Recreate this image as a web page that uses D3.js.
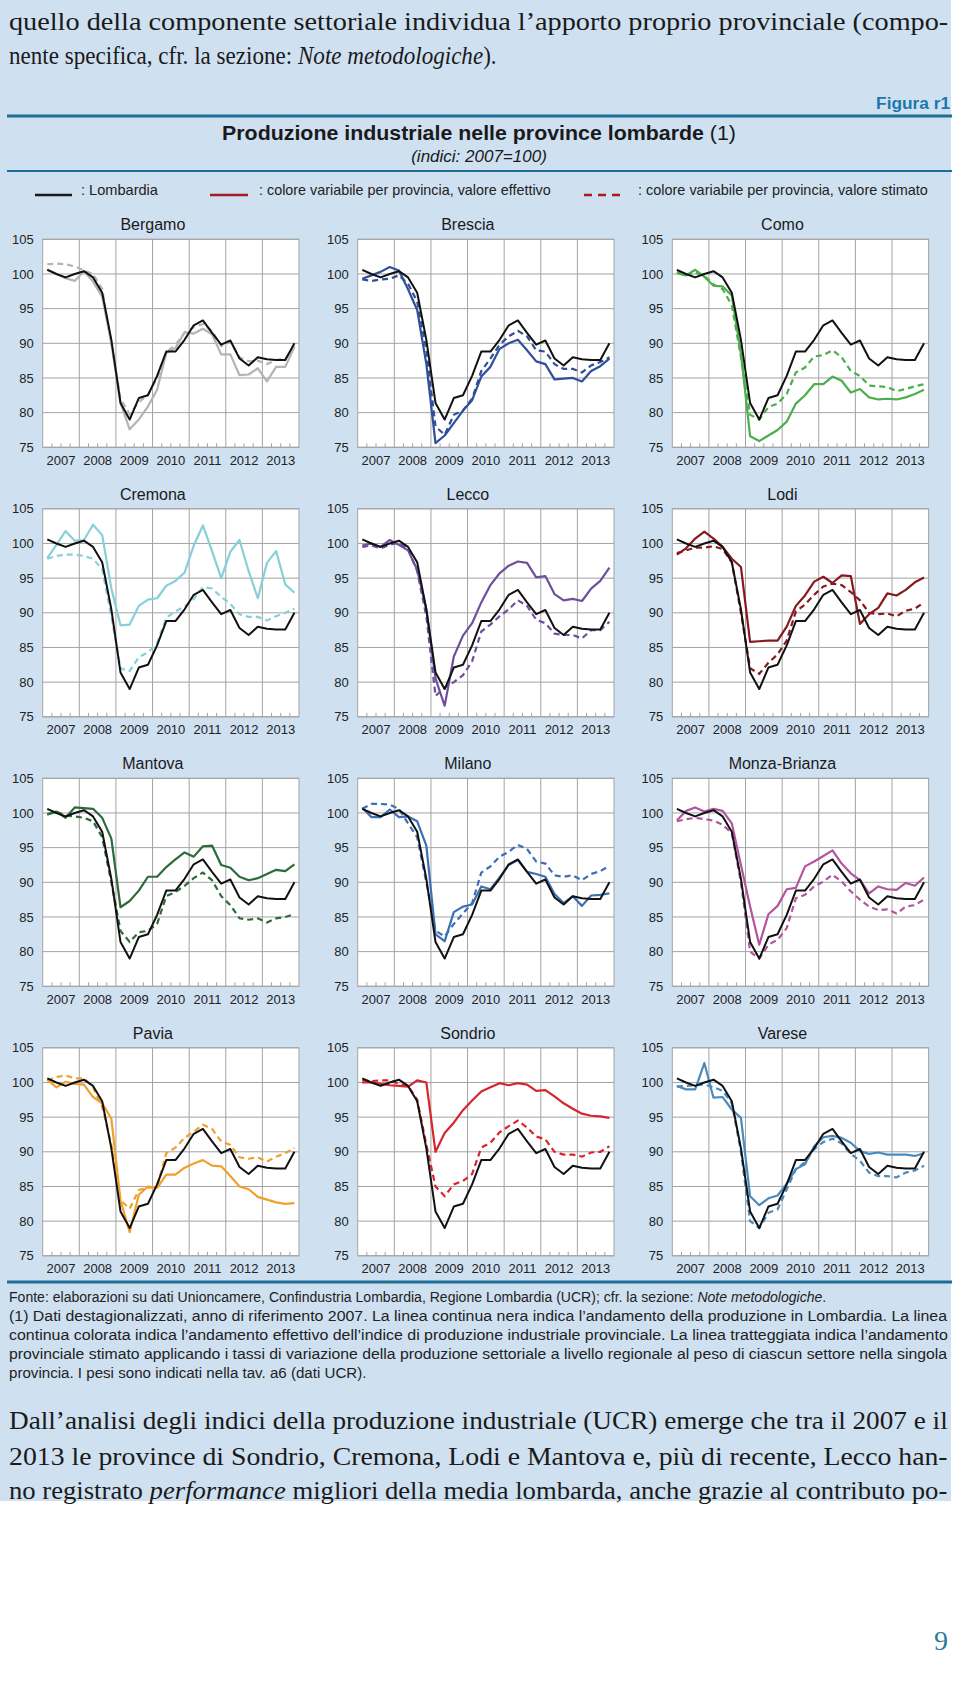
<!DOCTYPE html>
<html><head><meta charset="utf-8">
<script src="https://cdn.jsdelivr.net/npm/d3@7"></script>
<style>
html,body{margin:0;padding:0;background:#fff;}
svg{display:block;}
</style></head>
<body>
<svg id="chart" width="960" height="1681"></svg>
<script>
// ---------------- DATA ----------------
const years = ["2007","2008","2009","2010","2011","2012","2013"];
const quarters = ["2007T1","2007T2","2007T3","2007T4","2008T1","2008T2","2008T3","2008T4",
  "2009T1","2009T2","2009T3","2009T4","2010T1","2010T2","2010T3","2010T4",
  "2011T1","2011T2","2011T3","2011T4","2012T1","2012T2","2012T3","2012T4",
  "2013T1","2013T2","2013T3","2013T4"];
const yTicks = [75, 80, 85, 90, 95, 100, 105];
const provinces = ["Bergamo","Brescia","Como","Cremona","Lecco","Lodi","Mantova","Milano","Monza-Brianza","Pavia","Sondrio","Varese"];

const lombardia = [100.6,100.0,99.5,100.0,100.4,99.5,97.3,90.5,81.4,79.0,82.1,82.5,85.3,88.8,88.8,90.5,92.6,93.3,91.5,89.8,90.4,87.8,86.8,88.0,87.7,87.6,87.6,90.0];

const bergamoEff  = [100.7,100.0,99.4,99.0,100.4,98.9,96.7,90.0,81.4,77.6,79.0,80.9,83.3,88.6,89.3,91.6,91.4,92.1,91.3,88.4,88.4,85.4,85.5,86.4,84.5,86.6,86.6,89.5];
const bergamoStim = [101.4,101.5,101.4,101.1,100.5,100.0,97.8,90.0,82.0,79.8,81.5,82.6,85.0,88.7,89.8,91.5,92.3,92.8,91.8,89.6,90.2,88.0,87.4,87.5,87.0,87.6,87.8,89.6];
const bresciaEff  = [99.3,99.8,100.3,101.0,100.5,97.8,94.8,87.0,75.6,76.7,78.5,80.3,81.8,85.2,86.6,89.2,90.0,90.5,89.0,87.4,87.0,84.8,84.9,85.0,84.5,86.0,86.7,87.8];
const bresciaStim = [99.2,99.0,99.2,99.3,99.8,98.6,96.0,89.0,78.0,76.8,79.7,80.3,82.0,86.0,87.8,89.8,91.0,91.8,91.0,89.0,88.8,87.0,86.3,86.3,85.8,86.8,87.3,88.0];
const comoEff     = [100.1,99.8,100.6,99.6,98.3,98.2,96.9,88.5,76.6,75.9,76.7,77.5,78.7,81.3,82.5,84.1,84.1,85.2,84.6,82.9,83.4,82.2,81.9,82.0,81.9,82.2,82.7,83.3];
const comoStim    = [100.3,99.8,100.2,99.7,98.5,97.8,95.5,88.0,79.7,79.0,80.8,81.3,82.7,85.8,86.5,88.1,88.3,89.0,88.0,86.0,85.3,83.9,83.8,83.7,83.1,83.4,83.8,84.1];
const cremonaEff  = [97.9,99.8,101.8,100.4,100.5,102.7,101.2,93.5,88.2,88.3,91.0,91.9,92.1,93.9,94.6,95.8,99.7,102.6,98.9,95.0,98.8,100.5,96.0,92.1,97.2,98.9,94.1,92.9];
const cremonaStim = [97.8,98.2,98.4,98.4,98.2,97.8,96.3,89.5,82.0,81.6,83.6,84.3,85.6,89.3,90.2,90.9,92.0,93.7,93.5,92.3,91.3,89.8,89.4,89.4,88.9,89.5,90.0,90.6];
const leccoEff    = [99.7,100.0,99.5,100.5,99.8,99.0,96.2,90.5,80.5,76.6,83.7,86.7,88.5,91.5,94.0,95.7,96.8,97.4,97.2,95.1,95.3,92.7,91.8,92.0,91.7,93.5,94.6,96.5];
const leccoStim   = [99.5,99.7,99.3,99.8,100.1,99.2,96.0,89.5,78.0,79.2,80.0,81.0,83.0,87.3,88.3,89.5,90.5,91.8,91.0,89.0,88.5,87.0,86.8,86.8,86.3,87.5,87.5,88.7];
const lodiEff     = [98.4,99.3,100.7,101.7,100.7,99.5,97.8,96.6,85.8,85.9,86.0,86.0,88.0,91.0,92.5,94.5,95.2,94.3,95.4,95.3,88.4,89.8,90.7,92.8,92.5,93.3,94.4,95.1];
const lodiStim    = [98.6,99.0,99.4,99.4,99.6,99.2,97.3,90.0,82.0,81.2,82.8,84.0,86.0,90.2,91.2,92.6,93.8,94.2,94.0,93.0,91.8,90.0,89.8,89.9,89.5,90.3,90.6,91.5];
const mantovaEff  = [99.8,100.2,99.3,100.8,100.7,100.6,99.3,96.3,86.4,87.3,88.8,90.8,90.8,92.2,93.3,94.3,93.7,95.2,95.3,92.5,92.1,90.8,90.3,90.6,91.2,91.8,91.6,92.6];
const mantovaStim = [99.8,100.2,99.6,99.5,99.3,98.8,96.5,90.0,83.0,81.4,82.8,83.0,84.0,88.0,88.6,89.5,90.6,91.4,90.3,88.0,86.7,84.8,84.6,84.8,84.2,84.8,85.0,85.4];
const milanoEff   = [100.8,99.4,99.4,100.5,99.4,99.5,98.8,95.3,82.5,81.5,85.7,86.5,86.8,89.4,89.0,90.7,92.5,93.2,91.5,91.2,90.8,88.3,87.0,88.0,86.6,88.1,88.2,88.4];
const milanoStim  = [100.6,101.3,101.3,101.2,100.6,98.5,96.5,90.0,83.0,82.2,84.0,85.5,87.0,91.4,92.3,93.7,94.4,95.4,94.8,93.0,92.7,91.0,90.8,91.0,90.3,91.2,91.6,92.4];
const monzaEff    = [98.9,100.3,100.8,100.2,100.6,100.3,98.5,92.5,86.5,81.0,85.4,86.6,89.0,89.2,92.3,93.0,93.8,94.6,92.7,91.3,90.3,88.4,89.4,89.0,88.9,89.9,89.5,90.7];
const monzaStim   = [98.8,99.1,99.3,99.1,98.9,98.3,97.1,90.0,80.0,79.0,81.0,81.7,83.4,87.7,88.2,89.4,90.1,91.1,90.1,88.7,87.5,86.5,86.0,86.1,85.5,86.5,86.7,87.5];
const paviaEff    = [100.4,99.3,100.1,99.8,99.7,97.9,97.0,94.8,83.0,78.4,83.8,85.0,84.8,86.7,86.7,87.7,88.3,88.8,88.0,87.9,86.5,85.0,84.6,83.5,83.1,82.7,82.5,82.6];
const paviaStim   = [100.3,100.8,101.0,100.6,100.6,99.3,96.5,91.0,83.0,81.8,84.5,84.8,85.0,89.8,90.6,92.0,92.9,93.9,93.3,91.5,91.0,89.2,89.0,89.2,88.6,89.3,89.8,90.6];
const sondrioEff  = [100.0,100.0,99.8,99.6,99.5,99.4,100.3,100.0,90.0,92.7,94.2,96.0,97.4,98.7,99.3,99.9,99.6,99.9,99.7,98.8,98.9,98.0,97.0,96.2,95.5,95.2,95.1,94.9];
const sondrioStim = [100.3,100.2,100.3,100.3,99.8,99.5,97.5,91.0,85.0,83.6,85.3,85.8,86.8,90.6,91.3,92.8,93.7,94.5,93.5,92.2,91.8,90.0,89.6,89.6,89.3,89.9,90.0,90.8];
const vareseEff   = [99.5,99.0,99.0,102.8,97.8,97.9,96.1,94.9,83.6,82.3,83.3,83.7,85.4,87.5,88.2,90.8,92.1,92.3,92.0,91.3,90.1,89.7,89.9,89.6,89.6,89.6,89.4,89.8];
const vareseStim  = [99.4,99.5,99.6,99.7,99.3,98.8,97.0,90.0,80.0,79.0,81.2,81.7,84.6,87.5,88.5,90.4,91.4,91.9,91.2,89.7,88.7,87.0,86.5,86.5,86.3,87.0,87.3,88.0];

const effettivo = [bergamoEff,bresciaEff,comoEff,cremonaEff,leccoEff,lodiEff,mantovaEff,milanoEff,monzaEff,paviaEff,sondrioEff,vareseEff];
const stimato   = [bergamoStim,bresciaStim,comoStim,cremonaStim,leccoStim,lodiStim,mantovaStim,milanoStim,monzaStim,paviaStim,sondrioStim,vareseStim];

// ---------------- STYLE ----------------
const provinceColors = ["#b4b4b4","#2f4f9a","#4cae4c","#86d0d8","#6d4f9e","#861a1f","#2c6a3b","#3c6fb3","#b2559e","#f0a02c","#d8242d","#4a8bbf"];
const BG = "#cfe0f1", TEAL = "#1f6e98", GRID = "#a3a3a3";
const SANS = "'Liberation Sans', Arial, sans-serif";
const NARROW = "'Liberation Sans Narrow', 'Liberation Sans', Arial, sans-serif";
const SERIF = "'Liberation Serif', 'Times New Roman', serif";

const svg = d3.select("#chart");
svg.append("rect").attr("x",0).attr("y",0).attr("width",951).attr("height",1501).attr("fill",BG);

// text line; if o.len is given the whole line is horizontally scaled to that width
function textLine(x, y, parts, o) {
  const g = svg.append("g").attr("transform", `translate(${x},${y})`);
  const t = g.append("text").attr("x", 0).attr("y", 0)
    .attr("font-family", o.font).attr("font-size", o.size).attr("fill", o.fill || "#1a1a1a");
  if (o.anchor) t.attr("text-anchor", o.anchor);
  if (o.weight) t.attr("font-weight", o.weight);
  if (o.italic) t.attr("font-style", "italic");
  parts.forEach(p => {
    const s = t.append("tspan").text(p.t !== undefined ? p.t : p);
    if (p.i) s.attr("font-style", "italic");
    if (p.w) s.attr("font-weight", p.w);
  });
  if (o.len) {
    const w = t.node().getComputedTextLength();
    if (w > 0) g.attr("transform", `translate(${x},${y}) scale(${o.len / w},1)`);
  }
  return t;
}

// top body text
textLine(9, 30, ["quello della componente settoriale individua l’apporto proprio provinciale (compo-"], {font: SERIF, size: 25, len: 940});
textLine(9, 64, ["nente specifica, cfr. la sezione: ", {t: "Note metodologiche", i: true}, ")."], {font: SERIF, size: 25, len: 488});

// figure header
textLine(950, 109, ["Figura r1"], {font: SANS, size: 17, weight: "bold", fill: "#1b78ad", anchor: "end", len: 74});
svg.append("line").attr("x1",7).attr("x2",952).attr("y1",116).attr("y2",116).attr("stroke",TEAL).attr("stroke-width",3);
textLine(479, 140, [{t: "Produzione industriale nelle province lombarde", w: "bold"}, {t: " (1)", w: "normal"}], {font: SANS, size: 20, anchor: "middle", fill: "#1a1a1a", len: 514});
textLine(479, 162, ["(indici: 2007=100)"], {font: SANS, size: 17, italic: true, anchor: "middle", fill: "#1a1a1a"});
svg.append("line").attr("x1",7).attr("x2",952).attr("y1",171).attr("y2",171).attr("stroke",TEAL).attr("stroke-width",2);

// legend
const legY = 195;
svg.append("line").attr("x1",35).attr("x2",72).attr("y1",legY).attr("y2",legY).attr("stroke","#1a1a1a").attr("stroke-width",2.5);
textLine(81, legY, [": Lombardia"], {font: NARROW, size: 14, fill: "#222", len: 77});
svg.append("line").attr("x1",210).attr("x2",248).attr("y1",legY).attr("y2",legY).attr("stroke","#a31b20").attr("stroke-width",2.5);
textLine(259, legY, [": colore variabile per provincia, valore effettivo"], {font: NARROW, size: 14, fill: "#222", len: 292});
svg.append("line").attr("x1",584).attr("x2",624).attr("y1",legY).attr("y2",legY).attr("stroke","#a31b20").attr("stroke-width",2.5).attr("stroke-dasharray","8,6");
textLine(638, legY, [": colore variabile per provincia, valore stimato"], {font: NARROW, size: 14, fill: "#222", len: 290});

// ---------------- PANELS ----------------
const PW = 256.3, PH = 208;
const colLeft = [42.7, 357.7, 672.3];
const rowTop = [239.3, 508.8, 778.3, 1047.8];

const x = d3.scaleBand().domain(quarters).range([0, PW]);
const xYear = d3.scaleBand().domain(years).range([0, PW]);
const y = d3.scaleLinear().domain([75, 105]).range([PH, 0]);
const line = d3.line()
  .x((d, i) => x(quarters[i]) + x.bandwidth() / 2)
  .y(d => y(d));

provinces.forEach((name, k) => {
  const col = k % 3, row = Math.floor(k / 3);
  const g = svg.append("g").attr("transform", `translate(${colLeft[col]},${rowTop[row]})`);
  g.append("rect").attr("width", PW).attr("height", PH).attr("fill", "#fff");

  g.selectAll("line.hg").data(yTicks).join("line").attr("class","hg")
    .attr("x1", 0).attr("x2", PW).attr("y1", d => y(d)).attr("y2", d => y(d))
    .attr("stroke", GRID).attr("stroke-width", 1);
  g.selectAll("line.vg").data(years.slice(1)).join("line").attr("class","vg")
    .attr("x1", d => xYear(d)).attr("x2", d => xYear(d)).attr("y1", 0).attr("y2", PH)
    .attr("stroke", GRID).attr("stroke-width", 1);
  g.selectAll("line.mt").data(quarters.filter((q, i) => i % 4 !== 0)).join("line").attr("class","mt")
    .attr("x1", d => x(d)).attr("x2", d => x(d)).attr("y1", PH).attr("y2", PH - 4)
    .attr("stroke", GRID).attr("stroke-width", 1);
  g.append("rect").attr("width", PW).attr("height", PH).attr("fill", "none").attr("stroke", GRID).attr("stroke-width", 1);

  const ya = g.append("g").call(d3.axisLeft(y).tickValues(yTicks).tickSize(0).tickPadding(9));
  ya.select(".domain").remove();
  ya.selectAll("text").attr("font-family", SANS).attr("font-size", 13).attr("fill", "#222");
  const xa = g.append("g").attr("transform", `translate(0,${PH})`)
    .call(d3.axisBottom(xYear).tickSize(0).tickPadding(8));
  xa.select(".domain").remove();
  xa.selectAll("text").attr("font-family", SANS).attr("font-size", 13).attr("fill", "#222");

  g.append("path").datum(stimato[k]).attr("d", line).attr("fill", "none")
    .attr("stroke", provinceColors[k]).attr("stroke-width", 2.2).attr("stroke-dasharray", "6,4");
  g.append("path").datum(effettivo[k]).attr("d", line).attr("fill", "none")
    .attr("stroke", provinceColors[k]).attr("stroke-width", 2.2).attr("stroke-linejoin", "round");
  g.append("path").datum(lombardia).attr("d", line).attr("fill", "none")
    .attr("stroke", "#111").attr("stroke-width", 2).attr("stroke-linejoin", "round");

  g.append("text").attr("x", (PW - 36) / 2).attr("y", -9).attr("text-anchor", "middle")
    .attr("font-family", SANS).attr("font-size", 16).attr("fill", "#1a1a1a").text(name);
});

// bottom rule + notes
svg.append("line").attr("x1",7).attr("x2",952).attr("y1",1282).attr("y2",1282).attr("stroke",TEAL).attr("stroke-width",3);
const NOTE = {font: NARROW, size: 14.5, fill: "#222"};
textLine(9, 1302, ["Fonte: elaborazioni su dati Unioncamere, Confindustria Lombardia, Regione Lombardia (UCR); cfr. la sezione: ", {t: "Note metodologiche", i: true}, "."], Object.assign({len: 818}, NOTE));
textLine(9, 1321, ["(1) Dati destagionalizzati, anno di riferimento 2007. La linea continua nera indica l’andamento della produzione in Lombardia. La linea"], Object.assign({len: 939}, NOTE));
textLine(9, 1340, ["continua colorata indica l’andamento effettivo dell’indice di produzione industriale provinciale. La linea tratteggiata indica l’andamento"], Object.assign({len: 939}, NOTE));
textLine(9, 1359, ["provinciale stimato applicando i tassi di variazione della produzione settoriale a livello regionale al peso di ciascun settore nella singola"], Object.assign({len: 939}, NOTE));
textLine(9, 1378, ["provincia. I pesi sono indicati nella tav. a6 (dati UCR)."], Object.assign({len: 358}, NOTE));

// lower body text
textLine(9, 1429, ["Dall’analisi degli indici della produzione industriale (UCR) emerge che tra il 2007 e il"], {font: SERIF, size: 25, len: 939});
textLine(9, 1465, ["2013 le province di Sondrio, Cremona, Lodi e Mantova e, più di recente, Lecco han-"], {font: SERIF, size: 25, len: 939});
textLine(9, 1499, ["no registrato ", {t: "performance", i: true}, " migliori della media lombarda, anche grazie al contributo po-"], {font: SERIF, size: 25, len: 939});

// page number
textLine(941, 1650, ["9"], {font: SERIF, size: 28, fill: "#2a7c9c", anchor: "middle"});
</script>
</body></html>
